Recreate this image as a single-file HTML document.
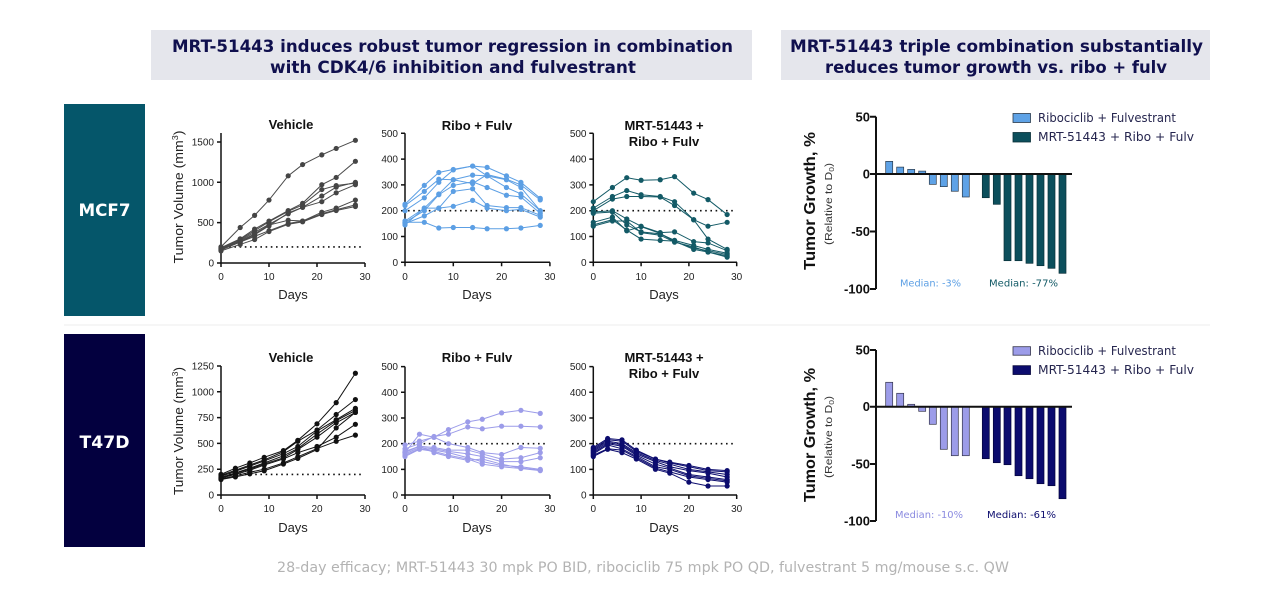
<!DOCTYPE html>
<html><head><meta charset="utf-8"><style>
html,body{margin:0;padding:0;background:#fff;}
svg{display:block;}
</style></head><body>
<svg width="1280" height="609" viewBox="0 0 1280 609" xmlns="http://www.w3.org/2000/svg">
<defs>
<marker id="mv1" markerUnits="userSpaceOnUse" markerWidth="1" markerHeight="1" refX="0" refY="0" overflow="visible"><ellipse cx="0" cy="0" rx="0.54" ry="32" fill="#454545"/></marker>
<marker id="mr1" markerUnits="userSpaceOnUse" markerWidth="1" markerHeight="1" refX="0" refY="0" overflow="visible"><ellipse cx="0" cy="0" rx="0.54" ry="10.1" fill="#5c9fe4"/></marker>
<marker id="mt1" markerUnits="userSpaceOnUse" markerWidth="1" markerHeight="1" refX="0" refY="0" overflow="visible"><ellipse cx="0" cy="0" rx="0.545" ry="10.1" fill="#135a66"/></marker>
<marker id="mv2" markerUnits="userSpaceOnUse" markerWidth="1" markerHeight="1" refX="0" refY="0" overflow="visible"><ellipse cx="0" cy="0" rx="0.54" ry="25.2" fill="#111"/></marker>
<marker id="mr2" markerUnits="userSpaceOnUse" markerWidth="1" markerHeight="1" refX="0" refY="0" overflow="visible"><ellipse cx="0" cy="0" rx="0.54" ry="10.1" fill="#9c9ce9"/></marker>
<marker id="mt2" markerUnits="userSpaceOnUse" markerWidth="1" markerHeight="1" refX="0" refY="0" overflow="visible"><ellipse cx="0" cy="0" rx="0.545" ry="10.1" fill="#0c0c6e"/></marker>
</defs>
<rect width="1280" height="609" fill="#fff"/>

<!-- Headers -->
<rect x="151" y="30" width="601" height="50" fill="#e5e6ec"/>
<rect x="781" y="30" width="429" height="50" fill="#e5e6ec"/>
<g font-family="DejaVu Sans, Liberation Sans, sans-serif" font-weight="bold" font-size="17" fill="#10104e">
<text x="172" y="52" textLength="561" lengthAdjust="spacingAndGlyphs">MRT-51443 induces robust tumor regression in combination</text>
<text x="270" y="73" textLength="366" lengthAdjust="spacingAndGlyphs">with CDK4/6 inhibition and fulvestrant</text>
<text x="790" y="52" textLength="413" lengthAdjust="spacingAndGlyphs">MRT-51443 triple combination substantially</text>
<text x="825" y="73" textLength="342" lengthAdjust="spacingAndGlyphs">reduces tumor growth vs. ribo + fulv</text>
</g>

<!-- Row labels -->
<rect x="64" y="104" width="81" height="212" fill="#05566a"/>
<rect x="64" y="334" width="81" height="213" fill="#03003f"/>
<line x1="64" y1="325" x2="1210" y2="325" stroke="#ededed" stroke-width="1"/>
<g font-family="DejaVu Sans, Liberation Sans, sans-serif" font-weight="bold" font-size="17" fill="#fff">
<text x="78.5" y="216" textLength="52" lengthAdjust="spacingAndGlyphs">MCF7</text>
<text x="79.5" y="448" textLength="50" lengthAdjust="spacingAndGlyphs">T47D</text>
</g>

<!-- ============ MCF7 VEHICLE ============ -->
<g font-family="Liberation Sans, Arial, sans-serif" fill="#222">
<text x="291" y="129" font-size="13" font-weight="bold" text-anchor="middle" fill="#111">Vehicle</text>
<text transform="translate(183,197) rotate(-90)" font-size="12.5" text-anchor="middle" textLength="133" lengthAdjust="spacingAndGlyphs">Tumor Volume (mm<tspan font-size="8" dy="-5">3</tspan><tspan dy="5">)</tspan></text>
<g font-size="10" text-anchor="end">
<text x="214" y="266.5">0</text><text x="214" y="226">500</text><text x="214" y="185.8">1000</text><text x="214" y="145.5">1500</text>
</g>
<g font-size="10" text-anchor="middle">
<text x="221" y="280">0</text><text x="269" y="280">10</text><text x="317" y="280">20</text><text x="365" y="280">30</text>
</g>
<text x="293" y="299" font-size="13" text-anchor="middle">Days</text>
</g>
<g stroke="#111" stroke-width="1.5" fill="none">
<path d="M221,133V263H365"/>
<path d="M217,263H221M217,222.65H221M217,182.3H221M217,141.95H221"/>
<path d="M221,263V267M269,263V267M317,263V267M365,263V267"/>
</g>
<line x1="224" y1="246.9" x2="362" y2="246.9" stroke="#111" stroke-width="1.6" stroke-dasharray="1.6 3.6"/>
<g transform="translate(221,263) scale(4.8,-0.0807)" fill="none" stroke="#4a4a4a" stroke-width="1" vector-effect="non-scaling-stroke">
<g marker-start="url(#mv1)" marker-mid="url(#mv1)" marker-end="url(#mv1)">
<polyline vector-effect="non-scaling-stroke" points="0,200 4,440 7,590 10,780 14,1080 17,1220 21,1340 24,1420 28,1520"/>
<polyline vector-effect="non-scaling-stroke" points="0,190 4,300 7,420 10,520 14,650 17,740 21,970 24,1060 28,1260"/>
<polyline vector-effect="non-scaling-stroke" points="0,180 4,290 7,400 10,510 14,640 17,720 21,910 24,960 28,990"/>
<polyline vector-effect="non-scaling-stroke" points="0,170 4,280 7,380 10,480 14,610 17,690 21,830 24,940 28,1000"/>
<polyline vector-effect="non-scaling-stroke" points="0,160 4,260 7,350 10,460 14,620 17,690 21,760 24,870 28,970"/>
<polyline vector-effect="non-scaling-stroke" points="0,180 4,270 7,360 10,470 14,530 17,520 21,630 24,680 28,780"/>
<polyline vector-effect="non-scaling-stroke" points="0,170 4,260 7,330 10,400 14,490 17,520 21,610 24,660 28,720"/>
<polyline vector-effect="non-scaling-stroke" points="0,150 4,230 7,290 10,390 14,480 17,510 21,600 24,650 28,700"/>
</g>
</g>

<!-- ============ MCF7 RIBO + FULV ============ -->
<g font-family="Liberation Sans, Arial, sans-serif" fill="#222">
<text x="477" y="130" font-size="13" font-weight="bold" text-anchor="middle" fill="#111">Ribo + Fulv</text>
<g font-size="10" text-anchor="end">
<text x="398" y="265.8">0</text><text x="398" y="240">100</text><text x="398" y="214.2">200</text><text x="398" y="188.4">300</text><text x="398" y="162.6">400</text><text x="398" y="136.8">500</text>
</g>
<g font-size="10" text-anchor="middle">
<text x="405" y="280">0</text><text x="453.3" y="280">10</text><text x="501.6" y="280">20</text><text x="549.9" y="280">30</text>
</g>
<text x="477" y="299" font-size="13" text-anchor="middle">Days</text>
</g>
<g stroke="#111" stroke-width="1.5" fill="none">
<path d="M405,133.3V262.3H550"/>
<path d="M401,262.3H405M401,236.5H405M401,210.7H405M401,184.9H405M401,159.1H405M401,133.3H405"/>
<path d="M405,262.3V266.3M453.3,262.3V266.3M501.6,262.3V266.3M549.9,262.3V266.3"/>
</g>
<line x1="408" y1="210.7" x2="546" y2="210.7" stroke="#111" stroke-width="1.6" stroke-dasharray="1.6 3.6"/>
<g transform="translate(405,262.3) scale(4.83,-0.258)" fill="none" stroke="#5c9fe4" stroke-width="1">
<g marker-start="url(#mr1)" marker-mid="url(#mr1)" marker-end="url(#mr1)">
<polyline vector-effect="non-scaling-stroke" points="0,225 4,298 7,348 10,360 14,373 17,368 21,335 24,310 28,248"/>
<polyline vector-effect="non-scaling-stroke" points="0,220 4,275 7,322 10,320 14,305 17,340 21,322 24,300 28,242"/>
<polyline vector-effect="non-scaling-stroke" points="0,200 4,250 7,310 10,358 14,373 17,335 21,320 24,290 28,200"/>
<polyline vector-effect="non-scaling-stroke" points="0,160 4,210 7,265 10,320 14,338 17,335 21,290 24,265 28,200"/>
<polyline vector-effect="non-scaling-stroke" points="0,155 4,200 7,262 10,298 14,312 17,290 21,260 24,253 28,190"/>
<polyline vector-effect="non-scaling-stroke" points="0,150 4,180 7,210 10,275 14,285 17,220 21,212 24,212 28,182"/>
<polyline vector-effect="non-scaling-stroke" points="0,145 4,210 7,210 10,217 14,240 17,210 21,200 24,205 28,175"/>
<polyline vector-effect="non-scaling-stroke" points="0,155 4,155 7,133 10,135 14,135 17,130 21,130 24,133 28,143"/>
</g>
</g>

<!-- ============ MCF7 MRT ============ -->
<g font-family="Liberation Sans, Arial, sans-serif" fill="#222">
<text x="664" y="130" font-size="13" font-weight="bold" text-anchor="middle" fill="#111">MRT-51443 +</text>
<text x="664" y="146" font-size="13" font-weight="bold" text-anchor="middle" fill="#111">Ribo + Fulv</text>
<g font-size="10" text-anchor="end">
<text x="586.5" y="265.8">0</text><text x="586.5" y="240">100</text><text x="586.5" y="214.2">200</text><text x="586.5" y="188.4">300</text><text x="586.5" y="162.6">400</text><text x="586.5" y="136.8">500</text>
</g>
<g font-size="10" text-anchor="middle">
<text x="593.3" y="280">0</text><text x="641.1" y="280">10</text><text x="688.9" y="280">20</text><text x="736.7" y="280">30</text>
</g>
<text x="664" y="299" font-size="13" text-anchor="middle">Days</text>
</g>
<g stroke="#111" stroke-width="1.5" fill="none">
<path d="M593.3,133.3V262.3H737"/>
<path d="M589.3,262.3H593.3M589.3,236.5H593.3M589.3,210.7H593.3M589.3,184.9H593.3M589.3,159.1H593.3M589.3,133.3H593.3"/>
<path d="M593.3,262.3V266.3M641.1,262.3V266.3M688.9,262.3V266.3M736.7,262.3V266.3"/>
</g>
<line x1="596" y1="210.7" x2="734" y2="210.7" stroke="#111" stroke-width="1.6" stroke-dasharray="1.6 3.6"/>
<g transform="translate(593.3,262.3) scale(4.78,-0.258)" fill="none" stroke="#135a66" stroke-width="1">
<g marker-start="url(#mt1)" marker-mid="url(#mt1)" marker-end="url(#mt1)">
<polyline vector-effect="non-scaling-stroke" points="0,235 4,290 7,328 10,318 14,320 17,332 21,268 24,243 28,185"/>
<polyline vector-effect="non-scaling-stroke" points="0,210 4,255 7,278 10,262 14,255 17,235 21,165 24,140 28,155"/>
<polyline vector-effect="non-scaling-stroke" points="0,200 4,245 7,255 10,255 14,253 17,220 21,165 24,90 28,50"/>
<polyline vector-effect="non-scaling-stroke" points="0,195 4,200 7,168 10,140 14,115 17,118 21,80 24,75 28,45"/>
<polyline vector-effect="non-scaling-stroke" points="0,190 4,195 7,145 10,118 14,110 17,85 21,65 24,50 28,35"/>
<polyline vector-effect="non-scaling-stroke" points="0,155 4,175 7,122 10,138 14,112 17,80 21,55 24,45 28,30"/>
<polyline vector-effect="non-scaling-stroke" points="0,145 4,165 7,125 10,90 14,85 17,82 21,50 24,40 28,25"/>
<polyline vector-effect="non-scaling-stroke" points="0,140 4,160 7,160 10,115 14,105 17,78 21,60 24,40 28,20"/>
</g>
</g>

<!-- ============ T47D VEHICLE ============ -->
<g font-family="Liberation Sans, Arial, sans-serif" fill="#222">
<text x="291" y="362" font-size="13" font-weight="bold" text-anchor="middle" fill="#111">Vehicle</text>
<text transform="translate(183,431) rotate(-90)" font-size="12.5" text-anchor="middle" textLength="128" lengthAdjust="spacingAndGlyphs">Tumor Volume (mm<tspan font-size="8" dy="-5">3</tspan><tspan dy="5">)</tspan></text>
<g font-size="10" text-anchor="end">
<text x="214" y="498.5">0</text><text x="214" y="472.7">250</text><text x="214" y="446.9">500</text><text x="214" y="421.1">750</text><text x="214" y="395.3">1000</text><text x="214" y="369.5">1250</text>
</g>
<g font-size="10" text-anchor="middle">
<text x="221" y="512">0</text><text x="269" y="512">10</text><text x="317" y="512">20</text><text x="365" y="512">30</text>
</g>
<text x="293" y="532" font-size="13" text-anchor="middle">Days</text>
</g>
<g stroke="#111" stroke-width="1.5" fill="none">
<path d="M221,366V495H365"/>
<path d="M217,495H221M217,469.2H221M217,443.4H221M217,417.6H221M217,391.8H221M217,366H221"/>
<path d="M221,495V499M269,495V499M317,495V499M365,495V499"/>
</g>
<line x1="224" y1="474.4" x2="362" y2="474.4" stroke="#111" stroke-width="1.6" stroke-dasharray="1.6 3.6"/>
<g transform="translate(221,495) scale(4.8,-0.1032)" fill="none" stroke="#111" stroke-width="1">
<g marker-start="url(#mv2)" marker-mid="url(#mv2)" marker-end="url(#mv2)">
<polyline vector-effect="non-scaling-stroke" points="0,200 3,260 6,310 9,365 13,430 16,530 20,690 24,895 28,1180"/>
<polyline vector-effect="non-scaling-stroke" points="0,190 3,240 6,290 9,340 13,420 16,520 20,630 24,780 28,925"/>
<polyline vector-effect="non-scaling-stroke" points="0,180 3,230 6,280 9,330 13,400 16,470 20,620 24,730 28,840"/>
<polyline vector-effect="non-scaling-stroke" points="0,170 3,215 6,260 9,310 13,380 16,450 20,590 24,720 28,820"/>
<polyline vector-effect="non-scaling-stroke" points="0,160 3,210 6,250 9,300 13,360 16,440 20,560 24,700 28,800"/>
<polyline vector-effect="non-scaling-stroke" points="0,165 3,200 6,240 9,290 13,350 16,410 20,470 24,560 28,685"/>
<polyline vector-effect="non-scaling-stroke" points="0,155 3,185 6,220 9,250 13,310 16,370 20,450 24,520 28,580"/>
<polyline vector-effect="non-scaling-stroke" points="0,150 3,175 6,205 9,235 13,300 16,355 20,440 24,650 28,800"/>
</g>
</g>

<!-- ============ T47D RIBO ============ -->
<g font-family="Liberation Sans, Arial, sans-serif" fill="#222">
<text x="477" y="362" font-size="13" font-weight="bold" text-anchor="middle" fill="#111">Ribo + Fulv</text>
<g font-size="10" text-anchor="end">
<text x="398" y="498.5">0</text><text x="398" y="472.8">100</text><text x="398" y="447.2">200</text><text x="398" y="421.5">300</text><text x="398" y="395.8">400</text><text x="398" y="370.2">500</text>
</g>
<g font-size="10" text-anchor="middle">
<text x="405" y="512">0</text><text x="453.3" y="512">10</text><text x="501.6" y="512">20</text><text x="549.9" y="512">30</text>
</g>
<text x="477" y="532" font-size="13" text-anchor="middle">Days</text>
</g>
<g stroke="#111" stroke-width="1.5" fill="none">
<path d="M405,366.65V495H550"/>
<path d="M401,495H405M401,469.33H405M401,443.66H405M401,418H405M401,392.3H405M401,366.65H405"/>
<path d="M405,495V499M453.3,495V499M501.6,495V499M549.9,495V499"/>
</g>
<line x1="408" y1="443.7" x2="546" y2="443.7" stroke="#111" stroke-width="1.6" stroke-dasharray="1.6 3.6"/>
<g transform="translate(405,495) scale(4.83,-0.2567)" fill="none" stroke="#9c9ce9" stroke-width="1">
<g marker-start="url(#mr2)" marker-mid="url(#mr2)" marker-end="url(#mr2)">
<polyline vector-effect="non-scaling-stroke" points="0,195 3,210 6,225 9,255 13,285 16,295 20,320 24,330 28,318"/>
<polyline vector-effect="non-scaling-stroke" points="0,180 3,200 6,228 9,237 13,265 16,258 20,268 24,268 28,265"/>
<polyline vector-effect="non-scaling-stroke" points="0,165 3,237 6,225 9,200 13,185 16,165 20,158 24,185 28,182"/>
<polyline vector-effect="non-scaling-stroke" points="0,170 3,190 6,185 9,175 13,175 16,160 20,140 24,145 28,165"/>
<polyline vector-effect="non-scaling-stroke" points="0,160 3,185 6,180 9,170 13,160 16,150 20,130 24,130 28,145"/>
<polyline vector-effect="non-scaling-stroke" points="0,155 3,180 6,175 9,165 13,145 16,130 20,115 24,110 28,100"/>
<polyline vector-effect="non-scaling-stroke" points="0,150 3,178 6,170 9,155 13,140 16,120 20,110 24,103 28,95"/>
<polyline vector-effect="non-scaling-stroke" points="0,165 3,190 6,165 9,150 13,135 16,140 20,120 24,105 28,97"/>
</g>
</g>

<!-- ============ T47D MRT ============ -->
<g font-family="Liberation Sans, Arial, sans-serif" fill="#222">
<text x="664" y="362" font-size="13" font-weight="bold" text-anchor="middle" fill="#111">MRT-51443 +</text>
<text x="664" y="378" font-size="13" font-weight="bold" text-anchor="middle" fill="#111">Ribo + Fulv</text>
<g font-size="10" text-anchor="end">
<text x="586.5" y="498.5">0</text><text x="586.5" y="472.8">100</text><text x="586.5" y="447.2">200</text><text x="586.5" y="421.5">300</text><text x="586.5" y="395.8">400</text><text x="586.5" y="370.2">500</text>
</g>
<g font-size="10" text-anchor="middle">
<text x="593.3" y="512">0</text><text x="641.1" y="512">10</text><text x="688.9" y="512">20</text><text x="736.7" y="512">30</text>
</g>
<text x="664" y="532" font-size="13" text-anchor="middle">Days</text>
</g>
<g stroke="#111" stroke-width="1.5" fill="none">
<path d="M593.3,366.65V495H737"/>
<path d="M589.3,495H593.3M589.3,469.33H593.3M589.3,443.66H593.3M589.3,418H593.3M589.3,392.3H593.3M589.3,366.65H593.3"/>
<path d="M593.3,495V499M641.1,495V499M688.9,495V499M736.7,495V499"/>
</g>
<line x1="596" y1="443.7" x2="734" y2="443.7" stroke="#111" stroke-width="1.6" stroke-dasharray="1.6 3.6"/>
<g transform="translate(593.3,495) scale(4.78,-0.2567)" fill="none" stroke="#0c0c6e" stroke-width="1">
<g marker-start="url(#mt2)" marker-mid="url(#mt2)" marker-end="url(#mt2)">
<polyline vector-effect="non-scaling-stroke" points="0,185 3,220 6,215 9,175 13,140 16,128 20,115 24,100 28,95"/>
<polyline vector-effect="non-scaling-stroke" points="0,180 3,215 6,210 9,170 13,140 16,125 20,110 24,95 28,90"/>
<polyline vector-effect="non-scaling-stroke" points="0,175 3,210 6,200 9,165 13,135 16,120 20,100 24,90 28,80"/>
<polyline vector-effect="non-scaling-stroke" points="0,170 3,205 6,195 9,160 13,130 16,110 20,95 24,85 28,70"/>
<polyline vector-effect="non-scaling-stroke" points="0,165 3,200 6,190 9,155 13,120 16,105 20,80 24,70 28,60"/>
<polyline vector-effect="non-scaling-stroke" points="0,160 3,195 6,180 9,150 13,110 16,100 20,75 24,65 28,55"/>
<polyline vector-effect="non-scaling-stroke" points="0,155 3,180 6,175 9,145 13,105 16,90 20,70 24,60 28,50"/>
<polyline vector-effect="non-scaling-stroke" points="0,150 3,178 6,165 9,140 13,100 16,85 20,50 24,35 28,35"/>
</g>
</g>

<!-- ============ MCF7 WATERFALL ============ -->
<g font-family="Liberation Sans, Arial, sans-serif" fill="#111">
<text transform="translate(815,201) rotate(-90)" font-size="16" font-weight="bold" text-anchor="middle" textLength="138" lengthAdjust="spacingAndGlyphs">Tumor Growth, %</text>
<text transform="translate(832,204) rotate(-90)" font-size="10" text-anchor="middle" fill="#333" textLength="82" lengthAdjust="spacingAndGlyphs">(Relative to D<tspan font-size="7" dy="2">0</tspan><tspan dy="-2">)</tspan></text>
<g font-size="13" font-weight="bold" text-anchor="end">
<text x="870" y="121.5">50</text><text x="870" y="178.7">0</text><text x="870" y="236.2">-50</text><text x="870" y="293.7">-100</text>
</g>
</g>
<g stroke="#111" stroke-width="2" fill="none">
<path d="M876,116.7V289"/>
<path d="M870,116.7H876M870,174H876M870,231.5H876M870,289H876"/>
</g>
<g fill="#5ea2e6" stroke="#2a3a4a" stroke-width="0.7">
<rect x="885.7" y="161.35" width="7" height="12.65"/>
<rect x="896.7" y="167.1" width="7" height="6.9"/>
<rect x="907.7" y="169.4" width="7" height="4.6"/>
<rect x="918.7" y="171.1" width="7" height="2.9"/>
<rect x="929.3" y="174" width="7" height="10.35"/>
<rect x="940.3" y="174" width="7" height="12.65"/>
<rect x="951.3" y="174" width="7" height="17.25"/>
<rect x="962.3" y="174" width="7" height="23"/>
</g>
<g fill="#0c4f5c" stroke="#0a2f38" stroke-width="0.7">
<rect x="982.3" y="174" width="7" height="23.7"/>
<rect x="993.3" y="174" width="7" height="30.3"/>
<rect x="1004" y="174" width="7" height="86.7"/>
<rect x="1015" y="174" width="7" height="86.7"/>
<rect x="1026" y="174" width="7" height="89.3"/>
<rect x="1037" y="174" width="7" height="91.7"/>
<rect x="1048" y="174" width="7" height="94.3"/>
<rect x="1059" y="174" width="7" height="99.3"/>
</g>
<line x1="876" y1="174" x2="1072" y2="174" stroke="#111" stroke-width="2"/>
<rect x="1013" y="113.5" width="17.5" height="9" fill="#5ea2e6" stroke="#2a3a4a" stroke-width="0.8"/>
<rect x="1013" y="132.5" width="17.5" height="9.5" fill="#0c4f5c" stroke="#0a2f38" stroke-width="0.8"/>
<g font-family="DejaVu Sans, Liberation Sans, sans-serif" font-size="12" fill="#26264f">
<text x="1038" y="122" textLength="138" lengthAdjust="spacingAndGlyphs">Ribociclib + Fulvestrant</text>
<text x="1038" y="141" textLength="156" lengthAdjust="spacingAndGlyphs">MRT-51443 + Ribo + Fulv</text>
</g>
<g font-family="DejaVu Sans, Liberation Sans, sans-serif" font-size="10">
<text x="900" y="286.5" fill="#5c9fe4" textLength="61" lengthAdjust="spacingAndGlyphs">Median: -3%</text>
<text x="989" y="286.5" fill="#135a66" textLength="69" lengthAdjust="spacingAndGlyphs">Median: -77%</text>
</g>

<!-- ============ T47D WATERFALL ============ -->
<g font-family="Liberation Sans, Arial, sans-serif" fill="#111">
<text transform="translate(815,435) rotate(-90)" font-size="16" font-weight="bold" text-anchor="middle" textLength="134" lengthAdjust="spacingAndGlyphs">Tumor Growth, %</text>
<text transform="translate(832,437) rotate(-90)" font-size="10" text-anchor="middle" fill="#333" textLength="82" lengthAdjust="spacingAndGlyphs">(Relative to D<tspan font-size="7" dy="2">0</tspan><tspan dy="-2">)</tspan></text>
<g font-size="13" font-weight="bold" text-anchor="end">
<text x="870" y="354.5">50</text><text x="870" y="411.2">0</text><text x="870" y="468.5">-50</text><text x="870" y="525.5">-100</text>
</g>
</g>
<g stroke="#111" stroke-width="2" fill="none">
<path d="M876,350V521"/>
<path d="M870,350H876M870,406.7H876M870,464H876M870,521H876"/>
</g>
<g fill="#9c9ce9" stroke="#33334a" stroke-width="0.7">
<rect x="885.7" y="382.3" width="7" height="24.4"/>
<rect x="896.7" y="393.3" width="7" height="13.4"/>
<rect x="907.7" y="404.3" width="7" height="2.4"/>
<rect x="918.7" y="406.7" width="7" height="4.6"/>
<rect x="929.3" y="406.7" width="7" height="17.6"/>
<rect x="940.3" y="406.7" width="7" height="42.6"/>
<rect x="951.3" y="406.7" width="7" height="49"/>
<rect x="962.3" y="406.7" width="7" height="49"/>
</g>
<g fill="#0c0c6e" stroke="#05053a" stroke-width="0.7">
<rect x="982.3" y="406.7" width="7" height="52"/>
<rect x="993.3" y="406.7" width="7" height="56"/>
<rect x="1004" y="406.7" width="7" height="58"/>
<rect x="1015" y="406.7" width="7" height="69"/>
<rect x="1026" y="406.7" width="7" height="72"/>
<rect x="1037" y="406.7" width="7" height="77"/>
<rect x="1048" y="406.7" width="7" height="79"/>
<rect x="1059" y="406.7" width="7" height="92"/>
</g>
<line x1="876" y1="406.7" x2="1072" y2="406.7" stroke="#111" stroke-width="2"/>
<rect x="1013" y="346.7" width="17.5" height="8.5" fill="#9c9ce9" stroke="#33334a" stroke-width="0.8"/>
<rect x="1013" y="365.7" width="17.5" height="8.8" fill="#0c0c6e" stroke="#05053a" stroke-width="0.8"/>
<g font-family="DejaVu Sans, Liberation Sans, sans-serif" font-size="12" fill="#26264f">
<text x="1038" y="355" textLength="138" lengthAdjust="spacingAndGlyphs">Ribociclib + Fulvestrant</text>
<text x="1038" y="374" textLength="156" lengthAdjust="spacingAndGlyphs">MRT-51443 + Ribo + Fulv</text>
</g>
<g font-family="DejaVu Sans, Liberation Sans, sans-serif" font-size="10">
<text x="895" y="518" fill="#8b8be0" textLength="68" lengthAdjust="spacingAndGlyphs">Median: -10%</text>
<text x="987" y="518" fill="#0c0c6e" textLength="69" lengthAdjust="spacingAndGlyphs">Median: -61%</text>
</g>

<!-- Footer -->
<text x="277" y="572" font-family="DejaVu Sans, Liberation Sans, sans-serif" font-size="14" fill="#b3b3b3" textLength="732" lengthAdjust="spacingAndGlyphs">28-day efficacy; MRT-51443 30 mpk PO BID, ribociclib 75 mpk PO QD, fulvestrant 5 mg/mouse  s.c. QW</text>
</svg>
</body></html>
